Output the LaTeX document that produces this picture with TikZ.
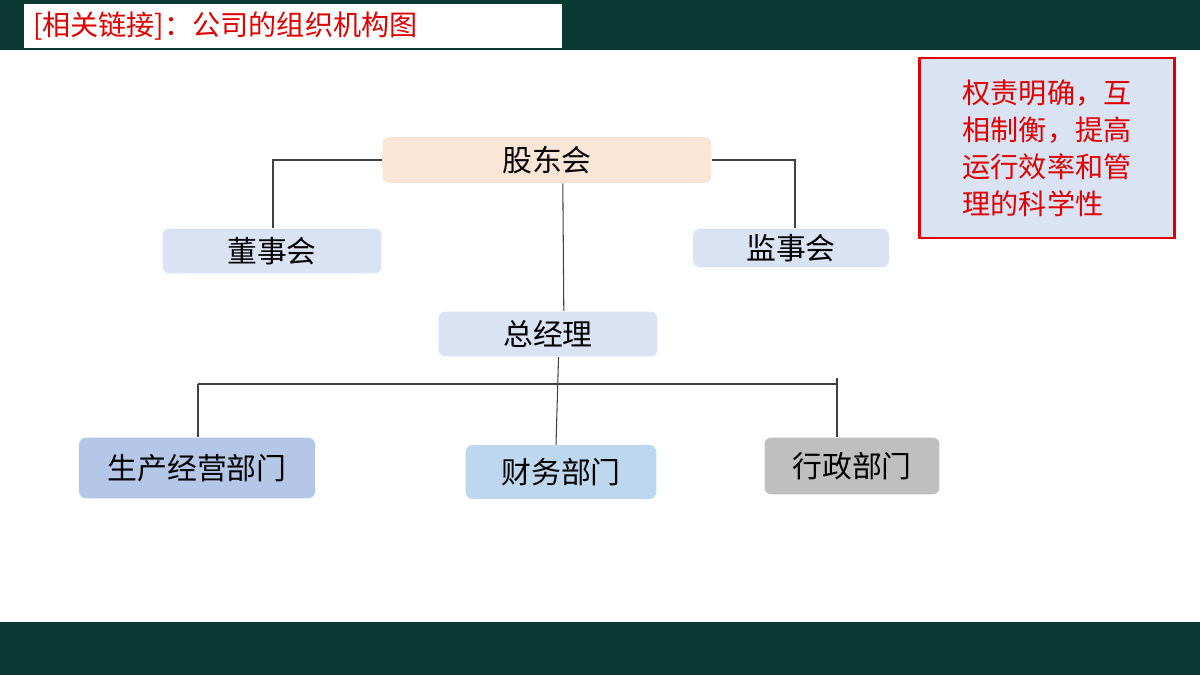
\documentclass[tikz,border=0pt]{standalone}
\usepackage{fontspec}
\newfontfamily\cjk{Noto Sans CJK SC}
\usetikzlibrary{positioning}
\definecolor{barteal}{HTML}{0B3A35}
\definecolor{peach}{HTML}{FBE5D6}
\definecolor{paleblue}{HTML}{DAE3F3}
\definecolor{midblue}{HTML}{B4C7E7}
\definecolor{skyblue}{HTML}{BDD7EE}
\definecolor{greybox}{HTML}{BFBFBF}
\definecolor{redtext}{HTML}{E00000}
\tikzset{
  unit/.style={rounded corners=4pt, font=\cjk\fontsize{17}{20}\selectfont, inner sep=0pt},
  link/.style={draw=black!75, line width=0.6pt}
}
\begin{document}
\begin{tikzpicture}[x=0.02cm,y=-0.02cm]
\useasboundingbox (0,0) rectangle (1200,675);
% bars
\fill[barteal] (0,0) rectangle (1200,50);
\fill[barteal] (0,622) rectangle (1200,675);
\node[fill=white, minimum width=10.76cm, minimum height=0.88cm, inner sep=0pt,
  text width=10.4cm, align=left,
  text=redtext, font=\cjk\fontsize{16}{18}\selectfont] (title) at (293,26) {[相关链接]：公司的组织机构图};
% units
\node[unit, fill=peach, minimum width=6.58cm, minimum height=0.92cm] (gdh) at (547,160) {股东会};
\node[unit, fill=paleblue, minimum width=4.38cm, minimum height=0.9cm] (dsh) at (272,251) {董事会};
\node[unit, fill=paleblue, minimum width=3.92cm, minimum height=0.78cm] (jsh) at (791,248) {监事会};
\node[unit, fill=paleblue, minimum width=4.38cm, minimum height=0.9cm] (zjl) at (548,334) {总经理};
\node[unit, fill=midblue, minimum width=4.72cm, minimum height=1.22cm] (scjy) at (197,468) {生产经营部门};
\node[unit, fill=skyblue, minimum width=3.82cm, minimum height=1.08cm] (cw) at (561,472) {财务部门};
\node[unit, fill=greybox, minimum width=3.5cm, minimum height=1.14cm] (xz) at (852,466) {行政部门};
% note
\node[draw=redtext, line width=1.2pt, fill=paleblue, minimum width=5.1cm, minimum height=3.6cm,
  align=left, text=redtext, inner sep=4pt,
  font=\cjk\fontsize{16}{21}\selectfont] (note) at (1047,148) {权责明确，互\\相制衡，提高\\运行效率和管\\理的科学性};
% links
\coordinate (dl) at (273,160);
\coordinate (jr) at (795,160);
\coordinate (bl) at (198,384);
\coordinate (br) at (837,384);
\coordinate (bt) at (837,378);
\draw[link] (gdh.west) -- (dl) -- (dsh.north -| dl);
\draw[link] (gdh.east) -- (jr) -- (jsh.north -| jr);
\draw[link] ([xshift=9]gdh.south) -- ([xshift=9]zjl.north);
\draw[link] ([xshift=6]zjl.south) -- (cw.north -| 556,0);
\draw[link] (bl) -- (br);
\draw[link] (bl) -- (scjy.north -| bl);
\draw[link] (bt) -- (xz.north -| bt);
\end{tikzpicture}
\end{document}
